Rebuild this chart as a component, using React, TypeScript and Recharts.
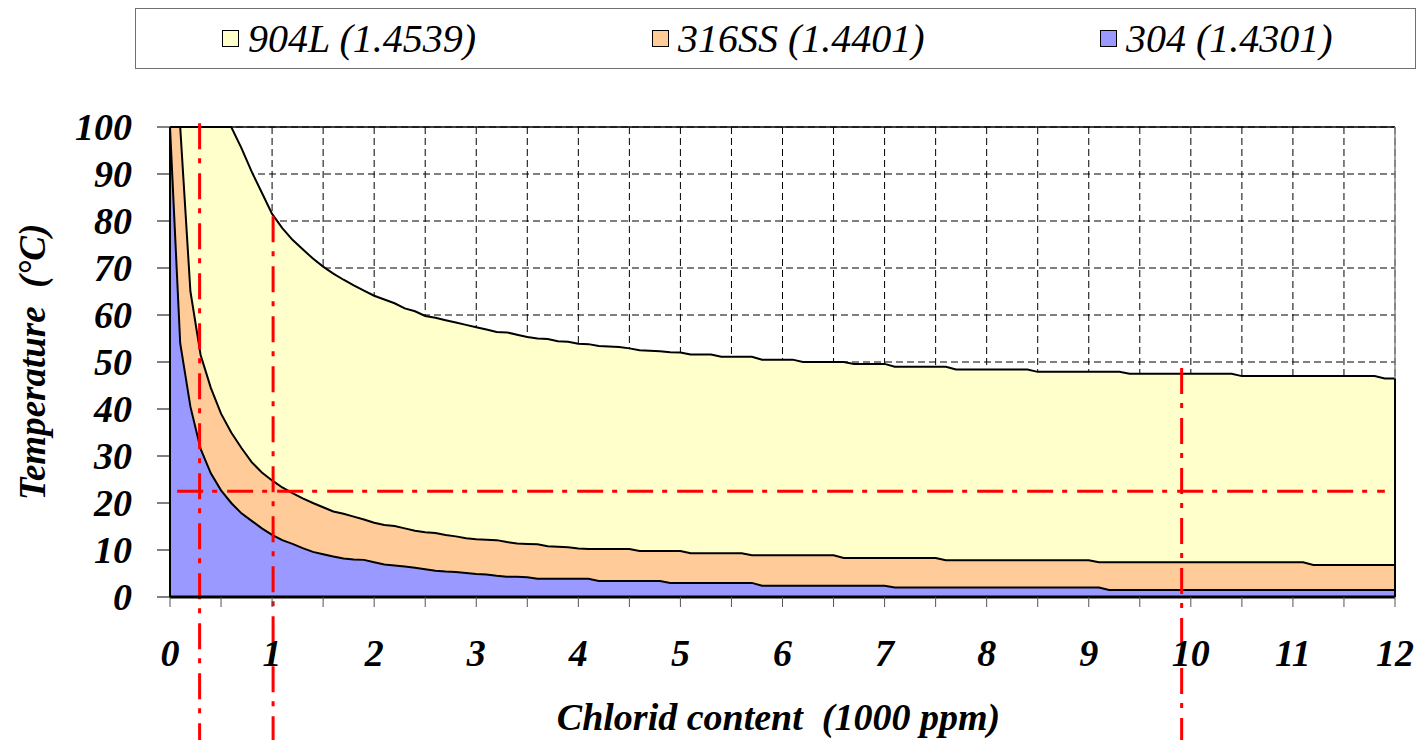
import { AreaChart, Area, XAxis, YAxis, CartesianGrid, ReferenceLine } from "recharts";

// chloride content, 1000 ppm
const CHLORIDE = [
  0, 0.1, 0.2, 0.3, 0.4, 0.5, 0.6, 0.7, 0.8, 0.9,
  1, 1.1, 1.2, 1.3, 1.4, 1.5, 1.6, 1.7, 1.8, 1.9,
  2, 2.1, 2.2, 2.3, 2.4, 2.5, 2.6, 2.7, 2.8, 2.9,
  3, 3.1, 3.2, 3.3, 3.4, 3.5, 3.6, 3.7, 3.8, 3.9,
  4, 4.1, 4.2, 4.3, 4.4, 4.5, 4.6, 4.7, 4.8, 4.9,
  5, 5.1, 5.2, 5.3, 5.4, 5.5, 5.6, 5.7, 5.8, 5.9,
  6, 6.1, 6.2, 6.3, 6.4, 6.5, 6.6, 6.7, 6.8, 6.9,
  7, 7.1, 7.2, 7.3, 7.4, 7.5, 7.6, 7.7, 7.8, 7.9,
  8, 8.1, 8.2, 8.3, 8.4, 8.5, 8.6, 8.7, 8.8, 8.9,
  9, 9.1, 9.2, 9.3, 9.4, 9.5, 9.6, 9.7, 9.8, 9.9,
  10, 10.1, 10.2, 10.3, 10.4, 10.5, 10.6, 10.7, 10.8, 10.9,
  11, 11.1, 11.2, 11.3, 11.4, 11.5, 11.6, 11.7, 11.8, 11.9,
  12,
];

// critical temperature, °C
const T_904L = [
  100, 100, 100, 100, 100, 100, 100, 95.5, 90.5, 86,
  81.5, 78.5, 76, 74, 72, 70.3, 68.8, 67.5, 66.3, 65.2,
  64.1, 63.3, 62.5, 61.4, 60.8, 59.8, 59.4, 58.9, 58.4, 57.9,
  57.4, 56.9, 56.4, 56.3, 55.8, 55.3, 55, 54.9, 54.4, 54.3,
  53.9, 53.8, 53.4, 53.3, 53.2, 52.9, 52.5, 52.4, 52.3, 52.1,
  52, 51.6, 51.6, 51.6, 51.1, 51.1, 51.1, 51.1, 50.5, 50.5,
  50.5, 50.5, 50, 50, 50, 50, 50, 49.6, 49.6, 49.6,
  49.6, 49, 49, 49, 49, 49, 49, 48.4, 48.4, 48.4,
  48.4, 48.4, 48.4, 48.4, 48.4, 47.9, 47.9, 47.9, 47.9, 47.9,
  47.9, 47.9, 47.9, 47.9, 47.5, 47.5, 47.5, 47.5, 47.5, 47.5,
  47.5, 47.5, 47.5, 47.5, 47.5, 47, 47, 47, 47, 47,
  47, 47, 47, 47, 47, 47, 47, 47, 47, 46.5,
  46.5,
];

const T_316SS = [
  100, 100, 65, 51.5, 44.5, 39, 35, 31.7, 28.7, 26.5,
  24.8, 23.3, 22.1, 21, 20, 19.1, 18.2, 17.7, 17.1, 16.5,
  15.8, 15.3, 15.1, 14.6, 14.1, 13.8, 13.6, 13.2, 12.9, 12.5,
  12.3, 12.2, 12.1, 11.7, 11.4, 11.3, 11.2, 10.8, 10.7, 10.6,
  10.3, 10.2, 10.2, 10.2, 10.2, 10.2, 9.8, 9.8, 9.8, 9.8,
  9.8, 9.3, 9.3, 9.3, 9.3, 9.3, 9.3, 8.9, 8.9, 8.9,
  8.9, 8.9, 8.9, 8.9, 8.9, 8.9, 8.3, 8.3, 8.3, 8.3,
  8.3, 8.3, 8.3, 8.3, 8.3, 8.3, 7.8, 7.8, 7.8, 7.8,
  7.8, 7.8, 7.8, 7.8, 7.8, 7.8, 7.8, 7.8, 7.8, 7.8,
  7.8, 7.4, 7.4, 7.4, 7.4, 7.4, 7.4, 7.4, 7.4, 7.4,
  7.4, 7.4, 7.4, 7.4, 7.4, 7.4, 7.4, 7.4, 7.4, 7.4,
  7.4, 7.4, 6.8, 6.8, 6.8, 6.8, 6.8, 6.8, 6.8, 6.8,
  6.8,
];

const T_304 = [
  100, 54, 40.5, 31.5, 26.3, 22.7, 20, 17.8, 16.2, 14.6,
  13.2, 12.1, 11.3, 10.4, 9.6, 9.1, 8.6, 8.2, 8, 7.9,
  7.4, 6.9, 6.7, 6.5, 6.2, 5.9, 5.6, 5.4, 5.3, 5.1,
  4.9, 4.8, 4.5, 4.3, 4.3, 4.2, 3.9, 3.9, 3.9, 3.9,
  3.9, 3.9, 3.4, 3.4, 3.4, 3.4, 3.4, 3.4, 3.4, 3,
  3, 3, 3, 3, 3, 3, 3, 3, 2.4, 2.4,
  2.4, 2.4, 2.4, 2.4, 2.4, 2.4, 2.4, 2.4, 2.4, 2.4,
  2.4, 2, 2, 2, 2, 2, 2, 2, 2, 2,
  2, 2, 2, 2, 2, 2, 2, 2, 2, 2,
  2, 2, 1.5, 1.5, 1.5, 1.5, 1.5, 1.5, 1.5, 1.5,
  1.5, 1.5, 1.5, 1.5, 1.5, 1.5, 1.5, 1.5, 1.5, 1.5,
  1.5, 1.5, 1.5, 1.5, 1.5, 1.5, 1.5, 1.5, 1.5, 1.5,
  1.5,
];

const X_TICKS = [
  0, 0.5, 1, 1.5, 2, 2.5, 3, 3.5, 4, 4.5, 5, 5.5, 6,
  6.5, 7, 7.5, 8, 8.5, 9, 9.5, 10, 10.5, 11, 11.5, 12,
];
const Y_TICKS = [0, 10, 20, 30, 40, 50, 60, 70, 80, 90, 100];

// red dash-dot guides
const GUIDE_X = [0.29, 1.01, 9.91];
const GUIDE_X_TOP = [100.8, 81, 48.7];
const GUIDE_Y = 22.5;
const GUIDE_Y_FROM = 0.07;
const GUIDE_Y_TO = 11.9;

const SERIES = [
  { key: "s904", name: "904L (1.4539)", values: T_904L, fill: "#FFFFCC" },
  { key: "s316", name: "316SS (1.4401)", values: T_316SS, fill: "#FFCC99" },
  { key: "s304", name: "304 (1.4301)", values: T_304, fill: "#9999FF" },
];

const rows = CHLORIDE.map((x, i) => {
  const r: any = { x };
  SERIES.forEach((s) => (r[s.key] = s.values[i]));
  return r;
});

const FONT = "'Liberation Serif', 'Times New Roman', serif";
const RED = "#FF0000";
const DASHDOT = "26 9 5 10";
const LEGEND_LEFT = [86, 516, 964];

const axisText = {
  fill: "#000",
  fontSize: 38,
  fontWeight: "bold",
  fontStyle: "italic",
  fontFamily: FONT,
};

export default function App() {
  return (
    <div style={{ position: "absolute", left: 0, top: 0, width: 1418, height: 740, background: "#fff" }}>
      <div
        style={{
          position: "absolute",
          left: 135,
          top: 8,
          width: 1281,
          height: 61,
          border: "1px solid #707070",
          boxSizing: "border-box",
          fontFamily: FONT,
          fontStyle: "italic",
          fontSize: 40,
          zIndex: 2,
        }}
      >
        {SERIES.map((s, i) => (
          <div
            key={s.key}
            style={{
              position: "absolute",
              left: LEGEND_LEFT[i],
              top: 0,
              height: 59,
              display: "flex",
              alignItems: "center",
              whiteSpace: "nowrap",
            }}
          >
            <span
              style={{
                display: "inline-block",
                width: 15,
                height: 15,
                background: s.fill,
                border: "1.5px solid #000",
                marginRight: 9,
              }}
            />
            <span style={{ lineHeight: 1 }}>{s.name}</span>
          </div>
        ))}
      </div>

      <AreaChart width={1418} height={740} data={rows} margin={{ top: 127, right: 23, bottom: 0, left: 0 }}>
        <CartesianGrid strokeDasharray="7 4" stroke="#000" strokeWidth={1} />
        <XAxis
          type="number"
          dataKey="x"
          domain={[0, 12]}
          ticks={X_TICKS}
          interval={0}
          height={143}
          tickSize={10}
          tickMargin={32}
          axisLine={{ stroke: "#000", strokeWidth: 3 }}
          tickLine={{ stroke: "#555" }}
          tick={axisText}
          tickFormatter={(v) => (Number.isInteger(v) ? String(v) : "")}
          label={{
            value: "Chlorid content\u00A0 (1000 ppm)",
            position: "center",
            dx: -4,
            dy: 48,
            ...axisText,
          }}
        />
        <YAxis
          type="number"
          domain={[0, 100]}
          ticks={Y_TICKS}
          interval={0}
          width={170}
          tickSize={13}
          tickMargin={25}
          axisLine={{ stroke: "#000", strokeWidth: 2 }}
          tickLine={{ stroke: "#000" }}
          tick={axisText}
          label={{
            value: "Temperature\u00A0 (°C)",
            angle: -90,
            position: "center",
            dx: -53,
            ...axisText,
            fontSize: 37,
          }}
        />
        {SERIES.map((s) => (
          <Area
            key={s.key}
            type="linear"
            dataKey={s.key}
            name={s.name}
            fill={s.fill}
            fillOpacity={1}
            stroke="#000"
            strokeWidth={2}
            dot={false}
            activeDot={false}
            isAnimationActive={false}
          />
        ))}
        <ReferenceLine y={100} stroke="#000" strokeWidth={1.5} />
        <ReferenceLine x={12} stroke="#888" strokeWidth={1.5} />
        <ReferenceLine
          segment={[{ x: 12, y: 0 }, { x: 12, y: T_904L[T_904L.length - 1] }]}
          stroke="#000"
          strokeWidth={2}
        />
        <ReferenceLine
          segment={[{ x: GUIDE_Y_FROM, y: GUIDE_Y }, { x: GUIDE_Y_TO, y: GUIDE_Y }]}
          stroke={RED}
          strokeWidth={3}
          strokeDasharray={DASHDOT}
          ifOverflow="visible"
        />
        {GUIDE_X.map((gx, i) => (
          <ReferenceLine
            key={gx}
            segment={[{ x: gx, y: GUIDE_X_TOP[i] }, { x: gx, y: -30.5 }]}
            stroke={RED}
            strokeWidth={3}
            strokeDasharray={DASHDOT}
            ifOverflow="visible"
          />
        ))}
      </AreaChart>
    </div>
  );
}
